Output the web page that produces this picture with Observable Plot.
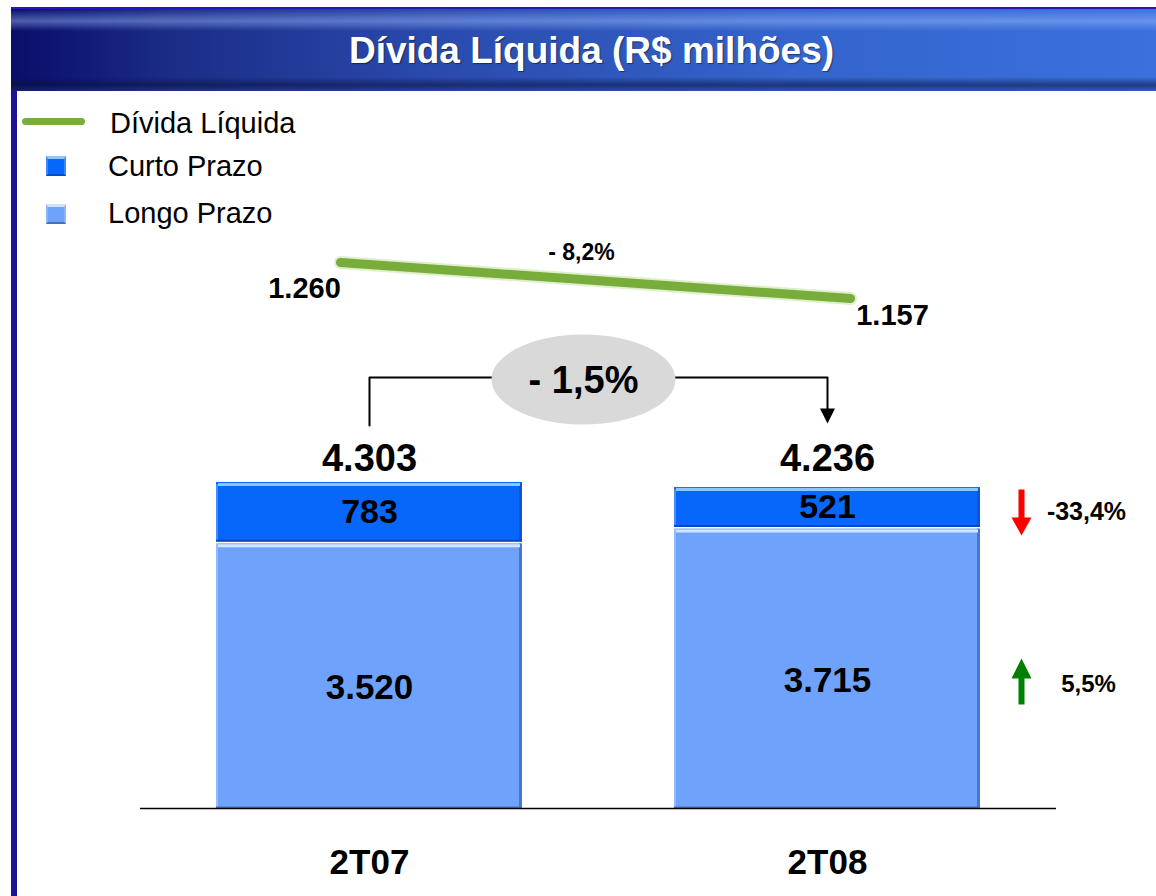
<!DOCTYPE html>
<html>
<head>
<meta charset="utf-8">
<script src="https://cdn.jsdelivr.net/npm/d3@7"></script>
<script src="https://cdn.jsdelivr.net/npm/@observablehq/plot@0.6"></script>
<style>
  body { margin: 0; background: #fff; }
  #wrap { position: relative; width: 1156px; height: 896px; overflow: hidden; background: #fff;
          font-family: "Liberation Sans", Arial, sans-serif; }
  #titlebar { position: absolute; left: 11px; top: 7px; width: 1145px; height: 84px;
    border-top: 2px solid #2a14c0;
    background:
      linear-gradient(to bottom, rgba(255,255,255,0) 0px, rgba(160,190,255,0.45) 12px, rgba(255,255,255,0) 22px,
                      rgba(0,0,0,0) 68px, rgba(8,16,60,0.55) 76px, rgba(60,80,160,0.35) 84px),
      linear-gradient(to right, #0a0e68 0px, #101a78 70px, #1a2b85 150px, #2a4aad 420px, #3464cc 780px, #3b70dd 1145px);
    color: #fff; font-weight: bold; font-size: 37px; text-align: center; line-height: 84px;
    padding-left: 16px; box-sizing: border-box; text-shadow: 1px 1px 1px rgba(0,0,0,0.45); }
  #leftbar { position: absolute; left: 11px; top: 7px; width: 6px; height: 889px; background: #1c1393; }
  .leg { position: absolute; font-size: 29px; color: #000; line-height: 30px; }
  .sw { position: absolute; width: 20px; height: 20px; box-sizing: border-box; }
  svg.plot { position: absolute; left: 0; top: 0; overflow: visible; }
</style>
</head>
<body>
<div id="wrap">
  <div id="leftbar"></div>
  <div id="titlebar">Dívida Líquida (R$ milhões)</div>
  <div id="legend"></div>
</div>
<script>
// ---- data ----
const periods = ["2T07", "2T08"];
const curtoPrazo = [783, 521];
const longoPrazo = [3520, 3715];
const totais = [4303, 4236];
const totaisLabels = ["4.303", "4.236"];
const curtoLabels = ["783", "521"];
const longoLabels = ["3.520", "3.715"];
const dividaLiquida = [1260, 1157];
const dividaLabels = ["1.260", "1.157"];
const variacaoDivida = "- 8,2%";
const variacaoTotal = "- 1,5%";
const variacaoCurto = "-33,4%";
const variacaoLongo = "5,5%";
const legendItems = ["Dívida Líquida", "Curto Prazo", "Longo Prazo"];

const colors = {curto: "#0767fb", longo: "#6fa3fb", linha: "#78ad3c"};

// ---- legend (HTML) ----
const legend = document.getElementById("legend");
legend.innerHTML = `
  <div style="position:absolute;left:22px;top:118px;width:63px;height:7px;border-radius:4px;background:${colors.linha}"></div>
  <div class="leg" style="left:110px;top:108px">${legendItems[0]}</div>
  <div class="sw" style="left:46px;top:156px;background:${colors.curto};border:2px solid #3d86ff;border-top:3px solid #8fc4ff;border-bottom:2px solid #0a4ac0"></div>
  <div class="leg" style="left:108px;top:151px">${legendItems[1]}</div>
  <div class="sw" style="left:46px;top:204px;background:${colors.longo};border:2px solid #8fb4ee;border-top:3px solid #cfe2ff;border-bottom:2px solid #4a70b8"></div>
  <div class="leg" style="left:108px;top:198px">${legendItems[2]}</div>
`;

// ---- table ----
const segs = [];
periods.forEach((p, i) => {
  segs.push({period: p, serie: "Longo Prazo", y1: 0, y2: longoPrazo[i], label: longoLabels[i]});
  segs.push({period: p, serie: "Curto Prazo", y1: longoPrazo[i], y2: totais[i], label: curtoLabels[i]});
});
const longoSegs = segs.filter(d => d.serie === "Longo Prazo");
const curtoSegs = segs.filter(d => d.serie === "Curto Prazo");
const totalRows = periods.map((p, i) => ({period: p, total: totais[i], label: totaisLabels[i]}));

const yDomain = [0, d3.max(totais)];
const yRange = [808, 482];
const yS = Plot.scale({y: {domain: yDomain, range: yRange}});
const py = v => yS.invert(v);

// custom symbols
const ellipse = {draw(ctx) {
  const rx = 92, ry = 45, k = 0.5523;
  ctx.moveTo(rx, 0);
  ctx.bezierCurveTo(rx, ry * k, rx * k, ry, 0, ry);
  ctx.bezierCurveTo(-rx * k, ry, -rx, ry * k, -rx, 0);
  ctx.bezierCurveTo(-rx, -ry * k, -rx * k, -ry, 0, -ry);
  ctx.bezierCurveTo(rx * k, -ry, rx, -ry * k, rx, 0);
  ctx.closePath();
}};
const triDown = {draw(ctx) { ctx.moveTo(-7.5, -7.5); ctx.lineTo(7.5, -7.5); ctx.lineTo(0, 7.5); ctx.closePath(); }};
const arrowDown = {draw(ctx) {
  ctx.moveTo(-3, -23); ctx.lineTo(3, -23); ctx.lineTo(3, 5); ctx.lineTo(10, 5);
  ctx.lineTo(0, 23); ctx.lineTo(-10, 5); ctx.lineTo(-3, 5); ctx.closePath();
}};
const arrowUp = {draw(ctx) {
  ctx.moveTo(-3, 23); ctx.lineTo(3, 23); ctx.lineTo(3, -3); ctx.lineTo(10, -3);
  ctx.lineTo(0, -23); ctx.lineTo(-10, -3); ctx.lineTo(-3, -3); ctx.closePath();
}};

const bracket = [
  {period: periods[0], y: py(425)},
  {period: periods[0], y: py(377)},
  {period: periods[1], y: py(377)},
  {period: periods[1], y: py(410)}
];

const main = Plot.plot({
  width: 1156,
  height: 896,
  marginLeft: 140,
  marginRight: 100,
  marginTop: 0,
  marginBottom: 0,
  style: {background: "transparent", fontFamily: "Liberation Sans, Arial, sans-serif", overflow: "visible"},
  x: {domain: periods, paddingInner: 0.332, paddingOuter: 0.166, axis: null},
  y: {domain: yDomain, range: yRange, axis: null},
  marks: [
    // bars
    Plot.barY(longoSegs, {x: "period", y1: "y1", y2: "y2", fill: colors.longo, insetTop: 2}),
    Plot.barY(curtoSegs, {x: "period", y1: "y1", y2: "y2", fill: colors.curto}),
    // bevel: right dark edge
    Plot.barY(segs, {x: "period", y1: "y1", y2: "y2", fill: "#1f3f8f", fillOpacity: 0.45, insetLeft: 303, insetTop: 2}),
    // bevel: left light edge
    Plot.barY(segs, {x: "period", y1: "y1", y2: "y2", fill: "#ffffff", fillOpacity: 0.25, insetRight: 304, insetTop: 2}),
    // bevel: top highlight
    Plot.tickY(curtoSegs, {x: "period", y: "y2", dy: 2, stroke: "#8cc6ff", strokeWidth: 3, inset: 2}),
    Plot.tickY(longoSegs, {x: "period", y: "y2", dy: 4, stroke: "#d2e6ff", strokeWidth: 3, inset: 2}),
    // bevel: bottom dark
    Plot.tickY(longoSegs, {x: "period", y: "y1", dy: -1, stroke: "#4a72c0", strokeWidth: 2}),
    Plot.tickY(curtoSegs, {x: "period", y: "y1", dy: -1, stroke: "#0848c0", strokeWidth: 2}),
    // baseline
    Plot.ruleY([0], {stroke: "#000", strokeWidth: 1.5}),
    // labels
    Plot.text(curtoSegs, {x: "period", y: d => (d.y1 + d.y2) / 2, text: "label", fontSize: 34, fontWeight: "bold", fill: "#000"}),
    Plot.text(longoSegs, {x: "period", y: d => (d.y1 + d.y2) / 2, text: "label", dy: 13, fontSize: 35, fontWeight: "bold", fill: "#000"}),
    Plot.text(totalRows, {x: "period", y: () => d3.max(totais), text: "label", dy: -24, fontSize: 38, fontWeight: "bold", fill: "#000"}),
    Plot.text(periods, {x: d => d, y: () => 0, text: d => d, dy: 54, fontSize: 35, fontWeight: "bold", fill: "#000"}),
    // bracket with ellipse
    Plot.line(bracket, {x: "period", y: "y", stroke: "#000", strokeWidth: 2}),
    Plot.dot([periods[1]], {x: d => d, y: () => py(415.5), symbol: triDown, fill: "#000", stroke: "none", r: 8}),
    Plot.dot([variacaoTotal], {x: () => periods[0], y: () => py(379), dx: 214, symbol: ellipse, fill: "#d9d9d9", stroke: "none", r: 40}),
    Plot.text([variacaoTotal], {x: () => periods[0], y: () => py(380), dx: 214, text: d => d, fontSize: 38, fontWeight: "bold", fill: "#000"}),
    // segment changes
    Plot.dot([variacaoCurto], {x: () => periods[1], y: () => py(512), dx: 194, symbol: arrowDown, fill: "#ff0000", stroke: "none", r: 20}),
    Plot.text([variacaoCurto], {x: () => periods[1], y: () => py(511), dx: 259, text: d => d, fontSize: 25, fontWeight: "bold", fill: "#000"}),
    Plot.dot([variacaoLongo], {x: () => periods[1], y: () => py(681), dx: 194, symbol: arrowUp, fill: "#008000", stroke: "none", r: 20}),
    Plot.text([variacaoLongo], {x: () => periods[1], y: () => py(684), dx: 261, text: d => d, fontSize: 24, fontWeight: "bold", fill: "#000"})
  ]
});
main.classList.add("plot");
document.getElementById("wrap").appendChild(main);

// ---- Dívida Líquida line panel ----
const lineRows = periods.map((p, i) => ({period: p, value: dividaLiquida[i], label: dividaLabels[i]}));
const linePlot = Plot.plot({
  width: 1156,
  height: 896,
  marginLeft: 340,
  marginRight: 306,
  marginTop: 0,
  marginBottom: 0,
  style: {background: "transparent", fontFamily: "Liberation Sans, Arial, sans-serif", overflow: "visible"},
  x: {type: "point", domain: periods, padding: 0, axis: null},
  y: {domain: [d3.min(dividaLiquida), d3.max(dividaLiquida)], range: [298, 262], axis: null},
  marks: [
    Plot.line(lineRows, {x: "period", y: "value", stroke: "#c9e2a8", strokeWidth: 13, strokeLinecap: "round", strokeOpacity: 0.6}),
    Plot.line(lineRows, {x: "period", y: "value", stroke: colors.linha, strokeWidth: 9, strokeLinecap: "round"}),
    Plot.text(lineRows.slice(0, 1), {x: "period", y: "value", text: "label", dx: -36, dy: 26, fontSize: 29, fontWeight: "bold", fill: "#000"}),
    Plot.text(lineRows.slice(1), {x: "period", y: "value", text: "label", dx: 42, dy: 17, fontSize: 29, fontWeight: "bold", fill: "#000"}),
    Plot.text([variacaoDivida], {x: () => periods[0], y: () => dividaLiquida[0], dx: 241, dy: -10, text: d => d, fontSize: 23, fontWeight: "bold", fill: "#000"})
  ]
});
linePlot.classList.add("plot");
document.getElementById("wrap").appendChild(linePlot);
</script>
</body>
</html>
